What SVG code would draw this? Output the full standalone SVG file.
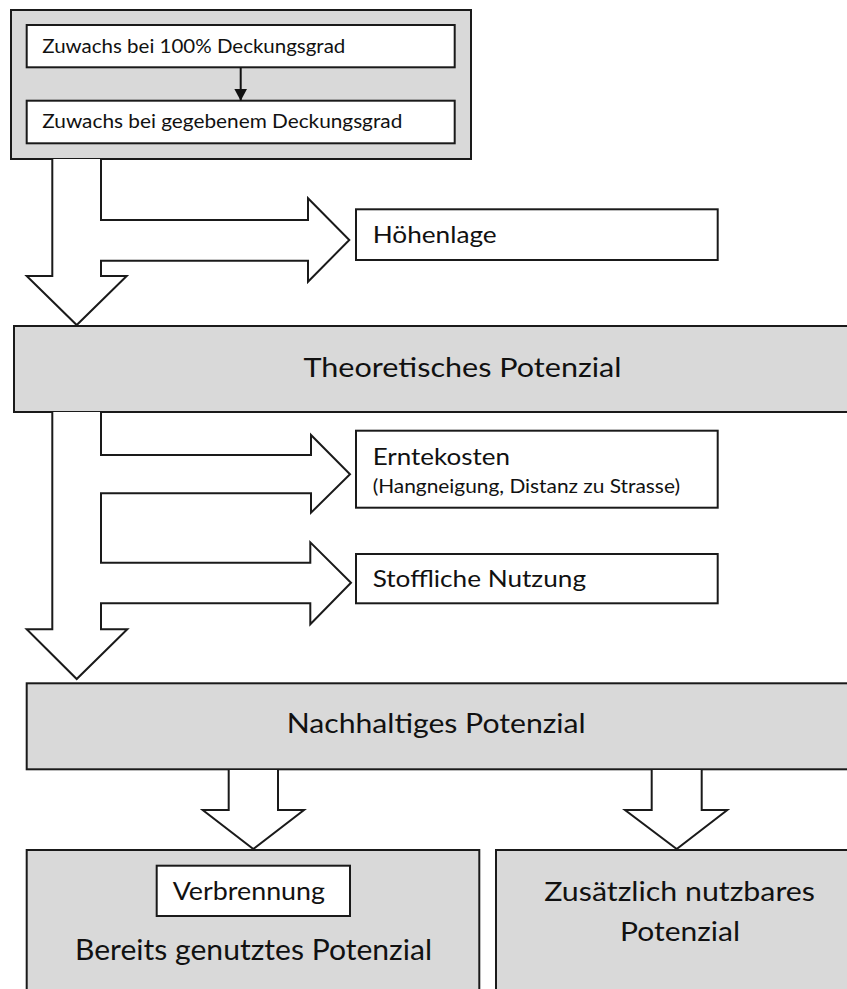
<svg xmlns="http://www.w3.org/2000/svg" width="847" height="989" viewBox="0 0 847 989">
<style>
.gray{fill:#d9d9d9;stroke:#1a1a1a;stroke-width:2}
.white{fill:#ffffff;stroke:#1a1a1a;stroke-width:2}
.arrow{fill:#ffffff;stroke:#1a1a1a;stroke-width:2;stroke-linejoin:miter}
text{font-family:Lato,"Open Sans","Liberation Sans",sans-serif;fill:#111111}
</style>
<defs>
<marker id="tri" markerWidth="14" markerHeight="13" refX="12" refY="6.5" orient="auto" markerUnits="userSpaceOnUse">
<path d="M0,0 L12,6.5 L0,13 Z" fill="#111111"/>
</marker>
</defs>
<rect width="847" height="989" fill="#ffffff"/>

<g id="zuwachs-group">
<rect class="gray" x="11" y="10" width="460" height="149" stroke-width="2.5"/>
</g>
<g id="zuwachs100">
<rect class="white" x="26.7" y="25" width="428" height="42.3"/>
<text x="42.3" y="53.3" font-size="19.5" textLength="303" lengthAdjust="spacingAndGlyphs">Zuwachs bei 100% Deckungsgrad</text>
</g>
<g id="zuwachsgegeben">
<rect class="white" x="26.7" y="100.7" width="428" height="42.6"/>
<text x="42.3" y="128.3" font-size="19.5" textLength="360" lengthAdjust="spacingAndGlyphs">Zuwachs bei gegebenem Deckungsgrad</text>
</g>
<g id="hoehenlage">
<rect class="white" x="356" y="209.3" width="361.7" height="50.7"/>
<text x="372.7" y="243.3" font-size="24" textLength="124" lengthAdjust="spacingAndGlyphs">Höhenlage</text>
</g>
<g id="theoretisch">
<rect class="gray" x="14" y="326" width="860" height="86"/>
<text x="303.5" y="377.3" font-size="26.5" textLength="318" lengthAdjust="spacingAndGlyphs">Theoretisches Potenzial</text>
</g>
<g id="erntekosten">
<rect class="white" x="356" y="430.7" width="361.7" height="77"/>
<text x="372.7" y="465" font-size="23.3" textLength="137.3" lengthAdjust="spacingAndGlyphs">Erntekosten</text>
<text x="372.7" y="493.3" font-size="18.6" textLength="307.3" lengthAdjust="spacingAndGlyphs">(Hangneigung, Distanz zu Strasse)</text>
</g>
<g id="stofflich">
<rect class="white" x="356" y="554" width="361.7" height="49.3"/>
<text x="372.7" y="587.3" font-size="23.3" textLength="213.3" lengthAdjust="spacingAndGlyphs">Stoffliche Nutzung</text>
</g>
<g id="nachhaltig">
<rect class="gray" x="26.7" y="683.3" width="860" height="86"/>
<text x="286.7" y="733.3" font-size="27" textLength="299" lengthAdjust="spacingAndGlyphs">Nachhaltiges Potenzial</text>
</g>
<g id="bereits">
<rect class="gray" x="26.7" y="850" width="452.6" height="160"/>
<text x="75" y="960" font-size="28" textLength="357" lengthAdjust="spacingAndGlyphs">Bereits genutztes Potenzial</text>
</g>
<g id="verbrennung">
<rect class="white" x="156.7" y="865.7" width="193.3" height="50.3"/>
<text x="172.7" y="900" font-size="25.5" textLength="152.3" lengthAdjust="spacingAndGlyphs">Verbrennung</text>
</g>
<g id="zusaetzlich">
<rect class="gray" x="496" y="850" width="370" height="160"/>
<text x="544.3" y="900.7" font-size="26.5" textLength="270.7" lengthAdjust="spacingAndGlyphs">Zusätzlich nutzbares</text>
<text x="620" y="940.7" font-size="26.5" textLength="120" lengthAdjust="spacingAndGlyphs">Potenzial</text>
</g>

<g id="connectors">
<line x1="240.7" y1="67.3" x2="240.7" y2="100.7" stroke="#111111" stroke-width="2" marker-end="url(#tri)"/>
<path class="arrow" d="M52.3,159 V276 H26.7 L76.7,325 L126.7,276 H101 V260.7 H308 V281.7 L349.3,240 L308,198.3 V220 H101 V159"/>
<path class="arrow" d="M52.3,412 V629.3 H26.7 L76.7,679 L127.3,629.3 H101 V603.3 H310.3 V624.3 L351,582.7 L310.3,542.3 V562.7 H101 V493.3 H311 V512.7 L350,474.3 L311,435 V455 H101 V412"/>
<path class="arrow" d="M228.7,770 V810 H202.7 L253.3,849 L304,810 H278 V770"/>
<path class="arrow" d="M651.7,770 V810 H625 L676.7,849 L727.3,810 H701.7 V770"/>
</g>
</svg>
